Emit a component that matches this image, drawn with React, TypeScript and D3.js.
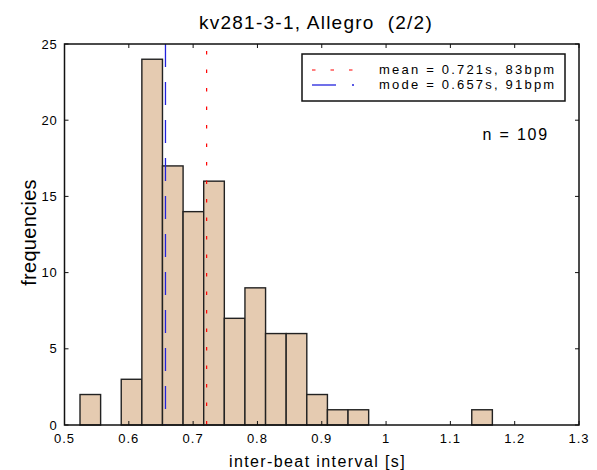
import * as d3 from "d3";

// histogram data
const binStart = 0.5241;
const binWidth = 0.03206;
const counts = [2, 0, 3, 24, 17, 14, 16, 7, 9, 6, 6, 2, 1, 1, 0, 0, 0, 0, 0, 1];
const xTicks = [0.5, 0.6, 0.7, 0.8, 0.9, 1.0, 1.1, 1.2, 1.3];
const yTicks = [0, 5, 10, 15, 20, 25];
const meanValue = 0.721;
const modeValue = 0.657;
const legendLabels = ["mean = 0.721s, 83bpm", "mode = 0.657s, 91bpm"];

const font = "'Liberation Sans', Arial, Helvetica, sans-serif";

export default function App() {
  const width = 597;
  const height = 470;
  const margin = { top: 44, right: 18, bottom: 45, left: 64.5 };
  const innerWidth = width - margin.left - margin.right;
  const innerHeight = height - margin.top - margin.bottom;

  const x = d3.scaleLinear().domain([0.5, 1.3]).range([0, innerWidth]);
  const y = d3.scaleLinear().domain([0, 25]).range([innerHeight, 0]);

  const bins = counts.map((c, i) => ({
    x0: binStart + i * binWidth,
    x1: binStart + (i + 1) * binWidth,
    count: c,
  }));

  const tickLen = 4;

  return (
    <svg
      width={width}
      height={height}
      style={{ position: "absolute", left: 0, top: 0, background: "#fff" }}
      fontFamily={font}
    >
      <text
        x={316}
        y={29}
        textAnchor="middle"
        fontSize={19}
        letterSpacing={1.25}
        fill="#000"
        style={{ whiteSpace: "pre" }}
      >
        {"kv281-3-1, Allegro  (2/2)"}
      </text>

      <g transform={`translate(${margin.left},${margin.top})`}>
        {bins
          .filter((b) => b.count > 0)
          .map((b) => (
            <rect
              key={b.x0}
              x={x(b.x0)}
              y={y(b.count)}
              width={x(b.x1) - x(b.x0)}
              height={innerHeight - y(b.count)}
              fill="#e5cbb1"
              stroke="#222"
              strokeWidth={1.4}
            />
          ))}

        {/* mean and mode lines */}
        <line
          x1={x(meanValue)}
          x2={x(meanValue)}
          y1={0}
          y2={innerHeight}
          stroke="#ff0000"
          strokeWidth={1.2}
          strokeDasharray="3.5 15"
          strokeDashoffset={-7}
        />
        <line
          x1={x(modeValue)}
          x2={x(modeValue)}
          y1={0}
          y2={innerHeight}
          stroke="#2222dd"
          strokeWidth={1.3}
          strokeDasharray="23 15"
        />

        {/* frame */}
        <rect
          x={0}
          y={0}
          width={innerWidth}
          height={innerHeight}
          fill="none"
          stroke="#111"
          strokeWidth={1.5}
        />

        {xTicks.map((t) => (
          <g key={`x-${t}`}>
            <line x1={x(t)} x2={x(t)} y1={innerHeight} y2={innerHeight - tickLen} stroke="#111" />
            <line x1={x(t)} x2={x(t)} y1={0} y2={tickLen} stroke="#111" />
            <text
              x={x(t)}
              y={innerHeight + 18}
              textAnchor="middle"
              fontSize={13}
              letterSpacing={1}
              fill="#000"
            >
              {d3.format("")(t)}
            </text>
          </g>
        ))}

        {yTicks.map((t) => (
          <g key={`y-${t}`}>
            <line x1={0} x2={tickLen} y1={y(t)} y2={y(t)} stroke="#111" />
            <line x1={innerWidth} x2={innerWidth - tickLen} y1={y(t)} y2={y(t)} stroke="#111" />
            <text
              x={-7}
              y={y(t)}
              dy="0.35em"
              textAnchor="end"
              fontSize={13}
              letterSpacing={0.8}
              fill="#000"
            >
              {t}
            </text>
          </g>
        ))}

        <text
          x={317.5 - margin.left}
          y={innerHeight + 42}
          textAnchor="middle"
          fontSize={16}
          letterSpacing={1.4}
          fill="#000"
        >
          inter-beat interval [s]
        </text>
        <text
          transform={`translate(${36 - margin.left},${232.5 - margin.top}) rotate(-90)`}
          textAnchor="middle"
          fontSize={20}
          letterSpacing={0.3}
          fill="#000"
        >
          frequencies
        </text>

        {/* legend */}
        <g transform={`translate(${302 - margin.left},${54 - margin.top})`}>
          <rect x={0} y={0} width={263} height={47} fill="#fff" stroke="#111" strokeWidth={1.5} />
          <line
            x1={10}
            x2={52}
            y1={16}
            y2={16}
            stroke="#ff0000"
            strokeWidth={1.2}
            strokeDasharray="3.5 15"
          />
          <line x1={10} x2={34} y1={31} y2={31} stroke="#2222dd" strokeWidth={1.3} />
          <line x1={50} x2={52} y1={31} y2={31} stroke="#2222dd" strokeWidth={1.3} />
          {legendLabels.map((label, i) => (
            <text
              key={label}
              x={77}
              y={20 + i * 15}
              fontSize={13}
              letterSpacing={2.2}
              fill="#000"
            >
              {label}
            </text>
          ))}
        </g>

        <text
          x={549 - margin.left}
          y={140 - margin.top}
          textAnchor="end"
          fontSize={16}
          letterSpacing={1.8}
          fill="#000"
        >
          n = 109
        </text>
      </g>
    </svg>
  );
}
